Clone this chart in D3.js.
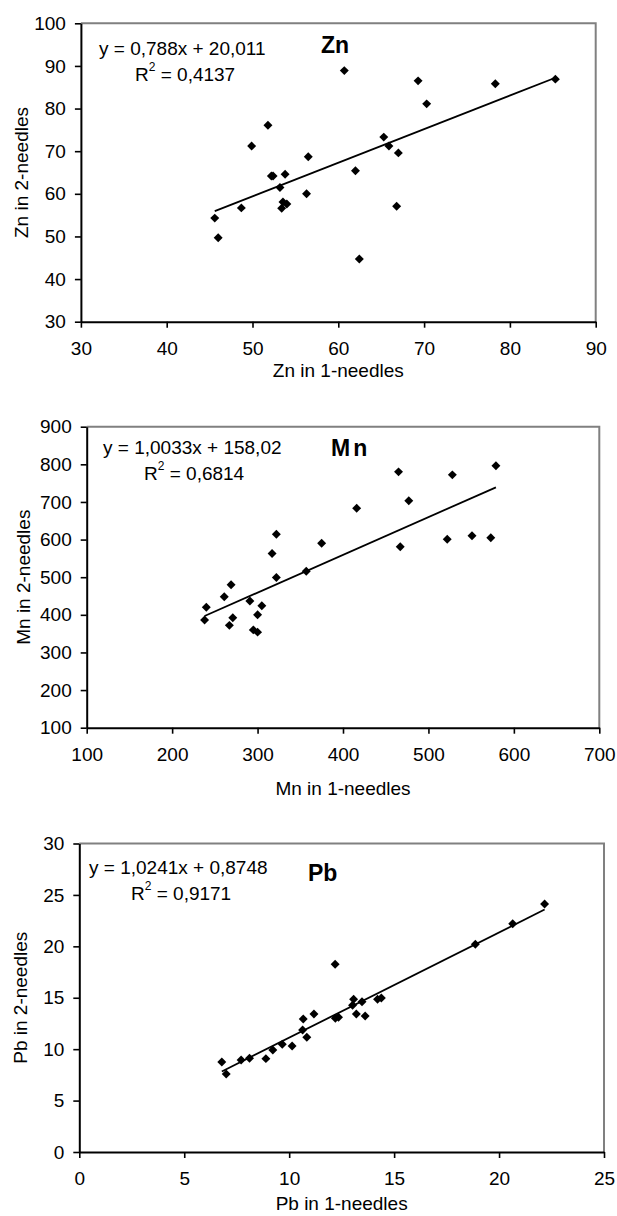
<!DOCTYPE html>
<meta charset="utf-8">
<script src="https://d3js.org/d3.v7.min.js"></script>
<style>
  body { margin: 0; background: #fff; }
  text { font-family: "Liberation Sans", Arial, sans-serif; fill: #000; }
</style>
<div id="chart"></div>
<script>

// Zn (1-needles vs 2-needles)
var znOne = [45.6, 46.0, 48.7, 49.9, 51.8, 52.2, 52.4, 53.2, 53.4, 53.55, 53.8, 54.0, 56.3, 56.5, 60.7, 62.0, 62.45, 65.3, 65.9, 66.8, 67.0, 69.3, 70.3, 78.3, 85.3];
var znTwo = [54.3, 49.7, 56.7, 71.2, 76.1, 64.2, 64.2, 61.5, 56.6, 58.1, 64.6, 57.6, 60.0, 68.7, 88.9, 65.4, 44.7, 73.3, 71.2, 57.1, 69.6, 86.5, 81.1, 85.8, 86.9];
var znFit = [0.788, 20.011];
var znXTicks = [30, 40, 50, 60, 70, 80, 90];
var znYTicks = [30, 40, 50, 60, 70, 80, 90, 100];

// Mn
var mnOne = [240, 238, 271, 267, 261, 269, 291, 300, 295, 300, 305, 322, 317, 322, 357, 375, 416, 465, 477, 467, 528, 522, 551, 573, 579];
var mnTwo = [420, 386, 392, 372, 448, 480, 437, 400, 360, 354, 424, 499, 563, 614, 516, 590, 683, 780, 703, 581, 772, 601, 610, 605, 796];
var mnFit = [1.0033, 158.02];
var mnXTicks = [100, 200, 300, 400, 500, 600, 700];
var mnYTicks = [100, 200, 300, 400, 500, 600, 700, 800, 900];

// Pb
var pbOne = [6.79, 7.0, 7.71, 8.11, 8.89, 9.22, 9.67, 10.14, 10.64, 10.67, 10.84, 11.18, 12.19, 12.2, 12.35, 13.02, 13.07, 13.2, 13.47, 13.62, 14.21, 14.39, 18.87, 20.65, 22.17];
var pbTwo = [8.75, 7.59, 8.95, 9.11, 9.08, 9.92, 10.47, 10.31, 11.87, 12.94, 11.16, 13.42, 18.26, 13.0, 13.1, 14.27, 14.85, 13.42, 14.62, 13.23, 14.85, 14.97, 20.2, 22.2, 24.12];
var pbFit = [1.0241, 0.8748];
var pbXTicks = [0, 5, 10, 15, 20, 25];
var pbYTicks = [0, 5, 10, 15, 20, 25, 30];

var svg = d3.select("#chart").append("svg")
  .attr("width", 617)
  .attr("height", 1216);

var panels = [
  { name: "Zn", xs: znOne, ys: znTwo, fit: znFit, xTicks: znXTicks, yTicks: znYTicks,
    eq: "y = 0,788x + 20,011", r2: "0,4137",
    left: 80.9, right: 595.7, top: 23.3, bottom: 321.7,
    eqX: 99, eqY: 48, r2X: 135, r2Y: 74, nameX: 321, nameY: 45, spacing: 0,
    xTitleY: 370, yTitleX: 21 },
  { name: "Mn", xs: mnOne, ys: mnTwo, fit: mnFit, xTicks: mnXTicks, yTicks: mnYTicks,
    eq: "y = 1,0033x + 158,02", r2: "0,6814",
    left: 86.7, right: 599.3, top: 426.7, bottom: 727.7,
    eqX: 103, eqY: 447, r2X: 144, r2Y: 473, nameX: 331, nameY: 448, spacing: 3,
    xTitleY: 788, yTitleX: 23 },
  { name: "Pb", xs: pbOne, ys: pbTwo, fit: pbFit, xTicks: pbXTicks, yTicks: pbYTicks,
    eq: "y = 1,0241x + 0,8748", r2: "0,9171",
    left: 79.3, right: 604, top: 843.5, bottom: 1152,
    eqX: 89, eqY: 867, r2X: 131, r2Y: 893, nameX: 308, nameY: 873, spacing: 0,
    xTitleY: 1203, yTitleX: 20 }
];

panels.forEach(function(p) {
  var x = d3.scaleLinear()
    .domain(d3.extent(p.xTicks))
    .range([p.left, p.right]);
  var y = d3.scaleLinear()
    .domain(d3.extent(p.yTicks))
    .range([p.bottom, p.top]);

  var g = svg.append("g");

  // gray frame on top and right
  g.append("path")
    .attr("d", "M" + p.left + "," + p.top + "H" + p.right + "V" + p.bottom)
    .attr("fill", "none")
    .attr("stroke", "#808080")
    .attr("stroke-width", 2);

  var xAxis = g.append("g")
    .attr("transform", "translate(0," + p.bottom + ")")
    .call(d3.axisBottom(x).tickValues(p.xTicks).tickSize(6).tickSizeOuter(0).tickPadding(14));
  var yAxis = g.append("g")
    .attr("transform", "translate(" + p.left + ",0)")
    .call(d3.axisLeft(y).tickValues(p.yTicks).tickSize(6).tickSizeOuter(0).tickPadding(9));

  [xAxis, yAxis].forEach(function(a) {
    a.select(".domain").attr("stroke", "#000").attr("stroke-width", 2);
    a.selectAll(".tick line").attr("stroke", "#000").attr("stroke-width", 1.6);
    a.selectAll(".tick text")
      .style("font-family", "'Liberation Sans', Arial, sans-serif")
      .style("font-size", "19px")
      .attr("fill", "#000");
  });

  // axis titles
  g.append("text")
    .attr("x", (p.left + p.right) / 2)
    .attr("y", p.xTitleY)
    .attr("text-anchor", "middle")
    .attr("dominant-baseline", "central")
    .style("font-size", "19px")
    .text(p.name + " in 1-needles");

  g.append("text")
    .attr("transform", "translate(" + p.yTitleX + "," + ((p.top + p.bottom) / 2) + ") rotate(-90)")
    .attr("text-anchor", "middle")
    .attr("dominant-baseline", "central")
    .style("font-size", "19px")
    .text(p.name + " in 2-needles");

  // trend line
  var lo = d3.min(p.xs), hi = d3.max(p.xs);
  g.append("path")
    .datum([lo, hi])
    .attr("d", d3.line()
      .x(function(d) { return x(d); })
      .y(function(d) { return y(p.fit[0] * d + p.fit[1]); }))
    .attr("fill", "none")
    .attr("stroke", "#000")
    .attr("stroke-width", 1.8);

  // points
  var pts = p.xs.map(function(v, i) { return [v, p.ys[i]]; });
  g.selectAll(".pt")
    .data(pts)
    .join("path")
    .attr("class", "pt")
    .attr("d", d3.symbol(d3.symbolSquare, 40))
    .attr("transform", function(d) { return "translate(" + x(d[0]) + "," + y(d[1]) + ") rotate(45)"; })
    .attr("fill", "#000");

  // equation and R2
  g.append("text")
    .attr("x", p.eqX)
    .attr("y", p.eqY)
    .attr("dominant-baseline", "central")
    .style("font-size", "19px")
    .text(p.eq);

  var r = g.append("text")
    .attr("x", p.r2X)
    .attr("y", p.r2Y)
    .attr("dominant-baseline", "central")
    .style("font-size", "19px");
  r.append("tspan").text("R");
  r.append("tspan").attr("dy", -7).style("font-size", "12px").text("2");
  r.append("tspan").attr("dy", 7).text(" = " + p.r2);

  // element name
  g.append("text")
    .attr("x", p.nameX)
    .attr("y", p.nameY)
    .attr("dominant-baseline", "central")
    .style("font-size", "23px")
    .style("font-weight", "bold")
    .style("letter-spacing", p.spacing + "px")
    .text(p.name);
});

</script>
